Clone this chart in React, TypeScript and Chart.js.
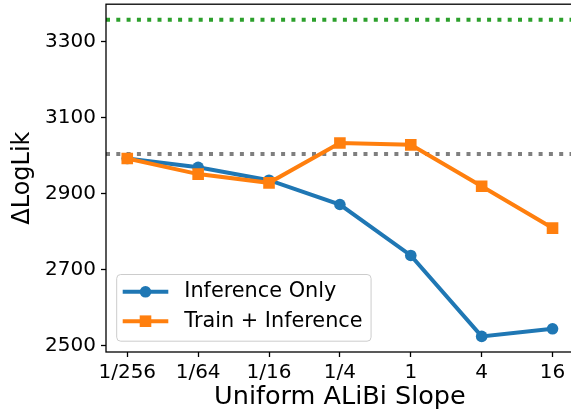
import React, { useEffect, useRef } from "react";
import { Chart, registerables } from "chart.js";

Chart.register(...registerables);

const X_LABELS = ["1/256", "1/64", "1/16", "1/4", "1", "4", "16"];
const INFERENCE_ONLY = [2992, 2969, 2935, 2871, 2737, 2524, 2544];
const TRAIN_INFERENCE = [2992, 2951, 2928, 3033, 3028, 2919, 2809];
const GRAY_REF = 3004;
const GREEN_REF = 3357;
const Y_TICKS = [2500, 2700, 2900, 3100, 3300];
const SERIES_NAMES = ["Inference Only", "Train + Inference"];

const BLUE = "#1f77b4";
const ORANGE = "#ff7f0e";
const GREEN = "#2ca02c";
const GRAY = "#7f7f7f";
const FONT = "'DejaVu Sans', sans-serif";

const X_MIN = -0.3;
const X_MAX = 6.3;

const zeroPad = (s: any) => {
  s.paddingTop = 0;
  s.paddingBottom = 0;
  s.paddingLeft = 0;
  s.paddingRight = 0;
};

const framePlugin = {
  id: "frame",
  afterDatasetsDraw(chart: any) {
    const { ctx, chartArea: a } = chart;
    ctx.save();
    ctx.strokeStyle = "#000";
    ctx.lineWidth = 1.3;
    ctx.strokeRect(a.left, a.top, a.right - a.left, a.bottom - a.top);
    ctx.restore();
  },
};

const legendPlugin = {
  id: "customLegend",
  afterDraw(chart: any) {
    const { ctx, chartArea: a } = chart;
    ctx.save();
    ctx.font = `20.8px ${FONT}`;
    const textW = Math.max(...SERIES_NAMES.map((t) => ctx.measureText(t).width));
    const bx = a.left + 10.7;
    const by = a.bottom - 77.5;
    const textOffset = 67.6;
    const bw = textOffset + textW + 8.5;
    const bh = 66.7;
    const r = 4;
    ctx.beginPath();
    ctx.moveTo(bx + r, by);
    ctx.lineTo(bx + bw - r, by);
    ctx.arcTo(bx + bw, by, bx + bw, by + r, r);
    ctx.lineTo(bx + bw, by + bh - r);
    ctx.arcTo(bx + bw, by + bh, bx + bw - r, by + bh, r);
    ctx.lineTo(bx + r, by + bh);
    ctx.arcTo(bx, by + bh, bx, by + bh - r, r);
    ctx.lineTo(bx, by + r);
    ctx.arcTo(bx, by, bx + r, by, r);
    ctx.closePath();
    ctx.fillStyle = "rgba(255,255,255,0.8)";
    ctx.fill();
    ctx.strokeStyle = "#cccccc";
    ctx.lineWidth = 1;
    ctx.stroke();

    const rows = [
      { name: SERIES_NAMES[0], color: BLUE, style: "circle" },
      { name: SERIES_NAMES[1], color: ORANGE, style: "rect" },
    ];
    rows.forEach((row, i) => {
      const cy = by + 17.3 + i * 29.4;
      const hx0 = bx + 6;
      const hx1 = bx + 51.6;
      ctx.strokeStyle = row.color;
      ctx.lineWidth = 4;
      ctx.lineCap = "butt";
      ctx.beginPath();
      ctx.moveTo(hx0, cy);
      ctx.lineTo(hx1, cy);
      ctx.stroke();
      const mx = (hx0 + hx1) / 2;
      ctx.fillStyle = row.color;
      if (row.style === "circle") {
        ctx.beginPath();
        ctx.arc(mx, cy, 5.8, 0, Math.PI * 2);
        ctx.fill();
      } else {
        ctx.fillRect(mx - 5.8, cy - 5.8, 11.6, 11.6);
      }
      ctx.fillStyle = "#000";
      ctx.textBaseline = "middle";
      ctx.textAlign = "left";
      ctx.fillText(row.name, bx + textOffset, cy);
    });
    ctx.restore();
  },
};

export default function App() {
  const canvasRef = useRef<HTMLCanvasElement | null>(null);

  useEffect(() => {
    const canvas = canvasRef.current;
    if (!canvas) return;
    const toPts = (arr: number[]) => arr.map((y, i) => ({ x: i, y }));
    const refLine = (v: number) => [
      { x: X_MIN, y: v },
      { x: X_MAX, y: v },
    ];
    const chart = new Chart(canvas, {
      type: "line",
      data: {
        datasets: [
          {
            label: SERIES_NAMES[1],
            data: toPts(TRAIN_INFERENCE),
            borderColor: ORANGE,
            backgroundColor: ORANGE,
            borderWidth: 4,
            pointStyle: "rect",
            pointRadius: 8.2,
            pointBorderWidth: 0,
            tension: 0,
          },
          {
            label: SERIES_NAMES[0],
            data: toPts(INFERENCE_ONLY),
            borderColor: BLUE,
            backgroundColor: BLUE,
            borderWidth: 4,
            pointStyle: "circle",
            pointRadius: 5.8,
            pointBorderWidth: 0,
            tension: 0,
          },
          {
            label: "gray",
            data: refLine(GRAY_REF),
            borderColor: GRAY,
            borderWidth: 4,
            borderDash: [4, 6.3],
            borderCapStyle: "butt",
            pointRadius: 0,
          },
          {
            label: "green",
            data: refLine(GREEN_REF),
            borderColor: GREEN,
            borderWidth: 4,
            borderDash: [4, 6.3],
            borderCapStyle: "butt",
            pointRadius: 0,
          },
        ],
      },
      options: {
        animation: false,
        responsive: false,
        devicePixelRatio: 1,
        layout: { padding: { top: 4.5, right: 2, left: 0, bottom: 0 } },
        plugins: {
          legend: { display: false },
          tooltip: { enabled: false },
        },
        scales: {
          x: {
            type: "linear",
            min: X_MIN,
            max: X_MAX,
            afterBuildTicks: (s: any) => {
              s.ticks = X_LABELS.map((_, i) => ({ value: i }));
            },
            afterFit: (s: any) => {
              s.height = 63;
              zeroPad(s);
            },
            ticks: {
              callback: (v: any) => X_LABELS[v] ?? "",
              autoSkip: false,
              maxRotation: 0,
              minRotation: 0,
              font: { family: FONT, size: 20 },
              color: "#000",
              padding: 4,
            },
            grid: {
              drawOnChartArea: false,
              drawTicks: true,
              tickLength: 5,
              tickWidth: 1.3,
              tickColor: "#000",
            },
            border: { display: false },
            title: {
              display: true,
              text: "Uniform ALiBi Slope",
              font: { family: FONT, size: 25.5 },
              color: "#000",
              padding: { top: 0, bottom: 2 },
            },
          },
          y: {
            type: "linear",
            min: 2483,
            max: 3398,
            afterBuildTicks: (s: any) => {
              s.ticks = Y_TICKS.map((v) => ({ value: v }));
            },
            afterFit: (s: any) => {
              s.width = 106;
              zeroPad(s);
            },
            ticks: {
              callback: (v: any) => String(v),
              font: { family: FONT, size: 20 },
              color: "#000",
              padding: 5,
            },
            grid: {
              drawOnChartArea: false,
              drawTicks: true,
              tickLength: 5,
              tickWidth: 1.3,
              tickColor: "#000",
            },
            border: { display: false },
            title: {
              display: true,
              text: "ΔLogLik",
              font: { family: FONT, size: 24 },
              color: "#000",
              padding: { top: 8, bottom: 0 },
            },
          },
        },
      },
      plugins: [framePlugin, legendPlugin],
    });
    return () => chart.destroy();
  }, []);

  return (
    <div
      style={{
        position: "fixed",
        left: 0,
        top: 0,
        width: 571,
        height: 415,
        overflow: "hidden",
        background: "#fff",
      }}
    >
      <canvas
        ref={canvasRef}
        width={582}
        height={419}
        style={{ display: "block", marginTop: -4 }}
      />
    </div>
  );
}
